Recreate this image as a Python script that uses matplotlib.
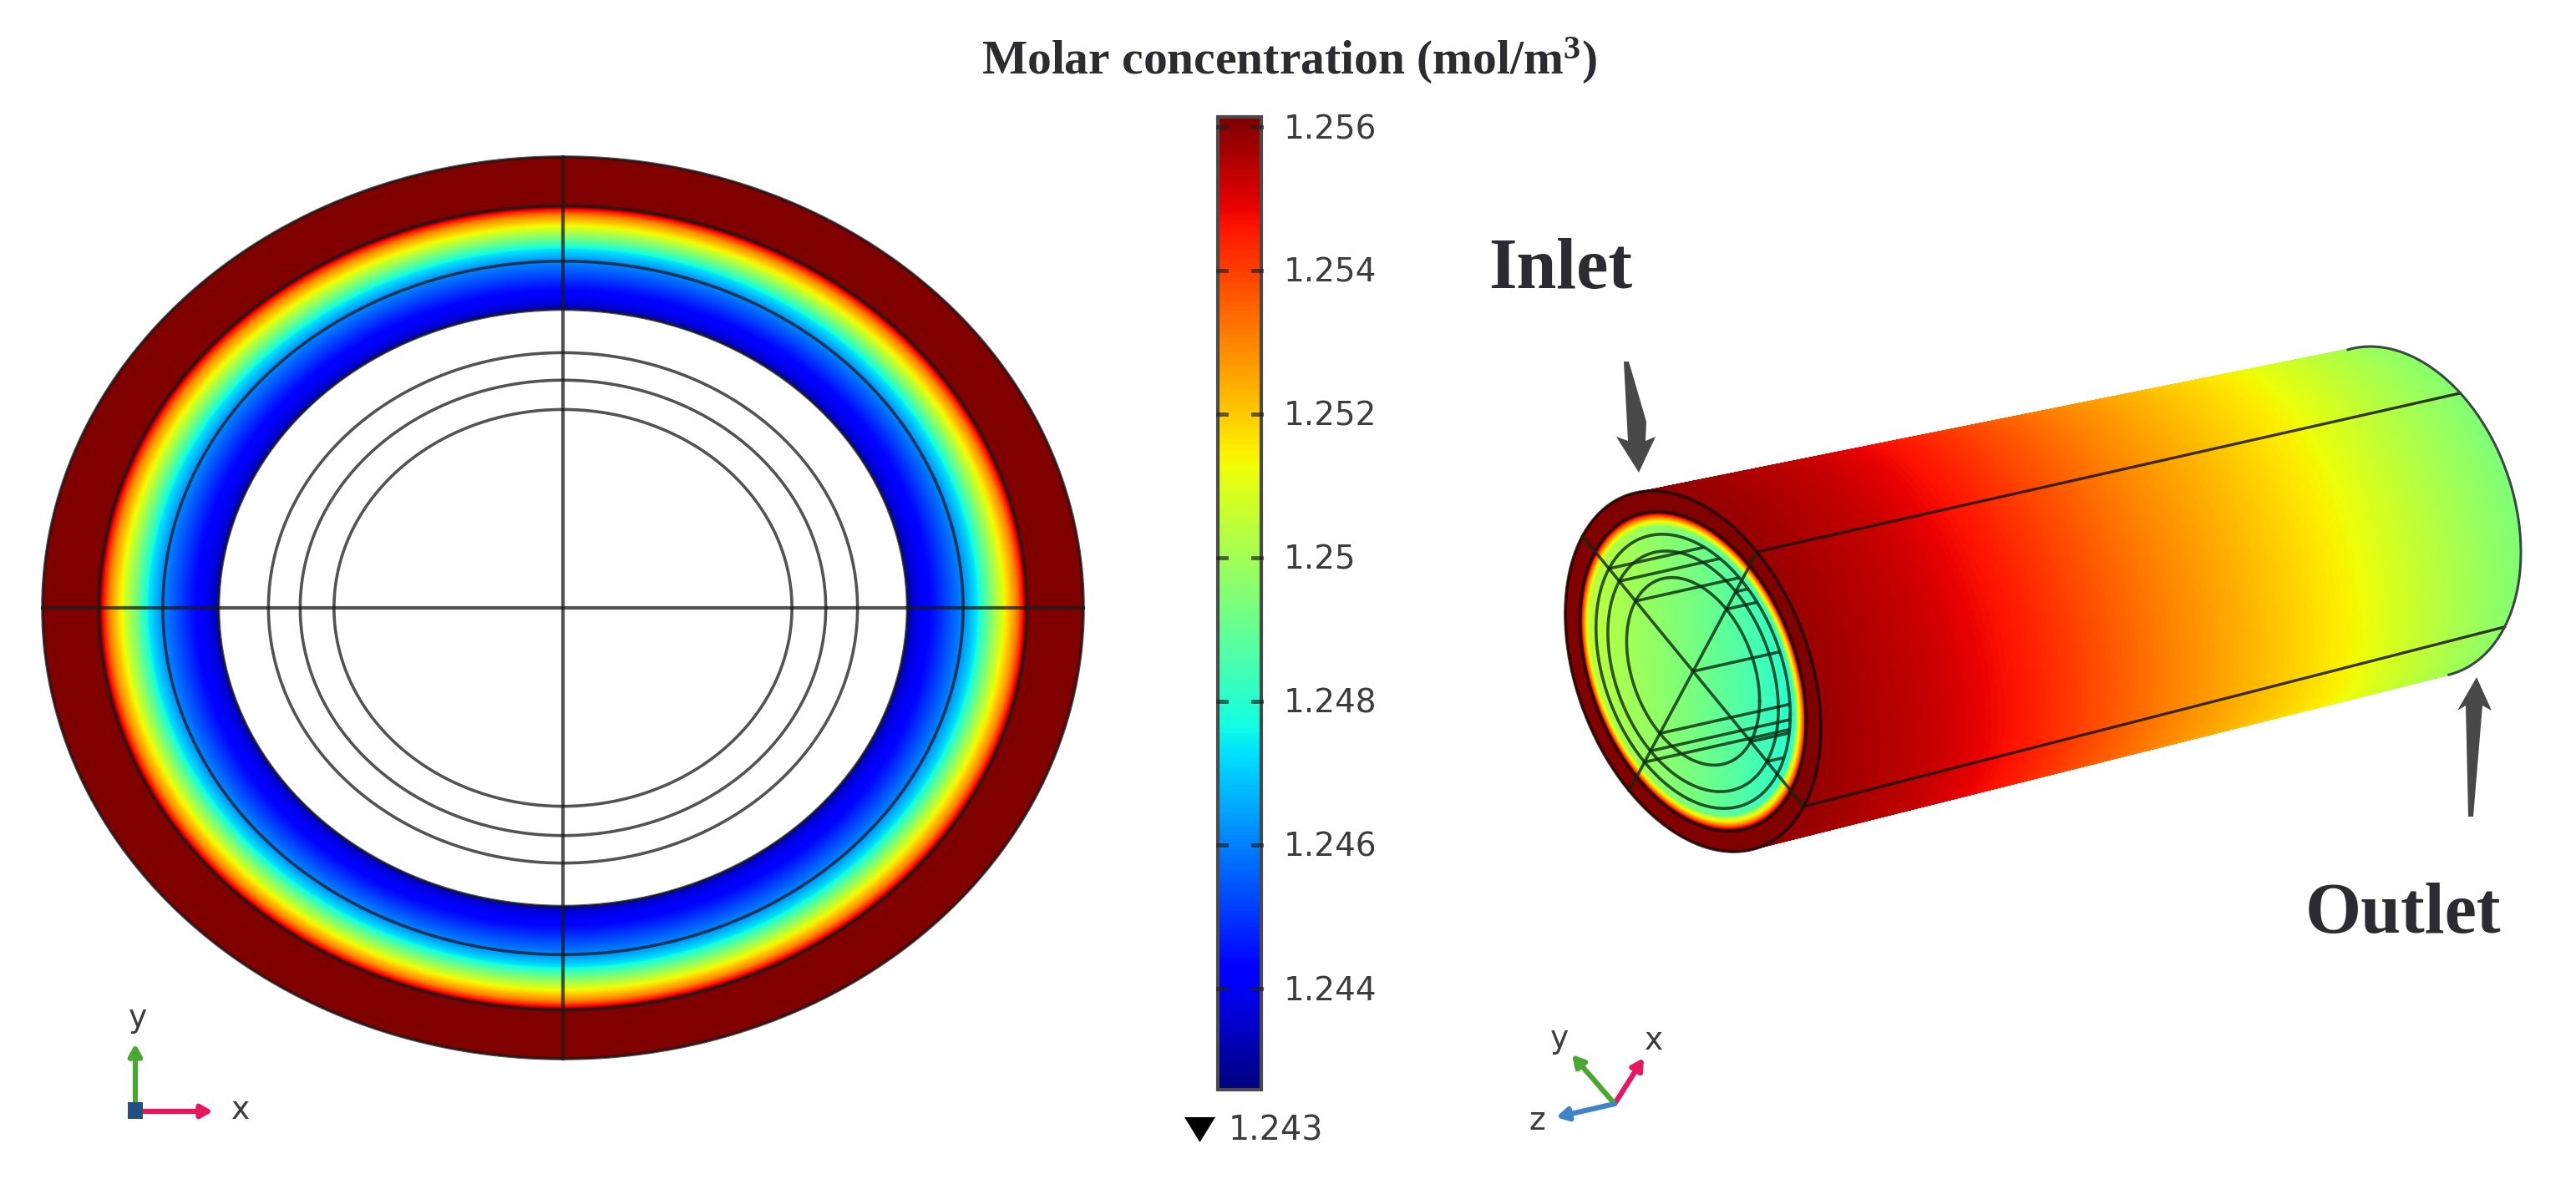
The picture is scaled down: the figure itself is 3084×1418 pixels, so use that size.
import numpy as np
import matplotlib
matplotlib.use("Agg")
import matplotlib.pyplot as plt
from matplotlib.colors import Normalize
from matplotlib.patches import Polygon, PathPatch, Rectangle
from matplotlib.path import Path

plt.rcParams['mathtext.fontset'] = 'custom'
plt.rcParams['mathtext.rm'] = 'Liberation Serif:bold'
plt.rcParams['mathtext.default'] = 'regular'

# ---- values ----
title_text = "Molar concentration (mol/m$^{3}$)"
inlet_label = "Inlet"
outlet_label = "Outlet"
cbar_ticks = [1.256, 1.254, 1.252, 1.25, 1.248, 1.246, 1.244]
cbar_labels = ["1.256", "1.254", "1.252", "1.25", "1.248", "1.246", "1.244"]
cbar_min_label = "1.243"
vmin, vmax = 1.24259, 1.25614

# concentration across the section (normalised radius -> mol/m3)
sec_r = [0.662, 0.680, 0.712, 0.769, 0.795, 0.823, 0.850, 0.872, 0.885, 0.892, 1.000]
sec_v = [1.2432, 1.2438, 1.2445, 1.2461, 1.2473, 1.2495, 1.2514, 1.2530, 1.2548, 1.2565, 1.2565]

# end-face ring of the cylinder (radius -> mol/m3)
face_r = [0.000, 0.795, 0.815, 0.835, 0.855, 0.870, 0.885, 1.000]
face_v = [1.2400, 1.2480, 1.2505, 1.2514, 1.2530, 1.2545, 1.2565, 1.2565]
# core of the end face, across it (left to right)
core_x = [-1.0, 0.0, 1.0]
core_v = [1.2507, 1.2493, 1.2476]

# along the cylinder (fraction of length -> mol/m3)
axial_s = [-0.1, 0.00, 0.15, 0.29, 0.50, 0.75, 0.88, 1.00]
axial_v = [1.2560, 1.2558, 1.2553, 1.2545, 1.2530, 1.2514, 1.2503, 1.2494]

# section boundaries (normalised radii)
sec_lines = [1.0, 0.892, 0.769, 0.662, 0.566, 0.505, 0.44]
face_lines = [1.0, 0.885, 0.76, 0.667, 0.52]

W, H = 3084, 1418
fig = plt.figure(figsize=(W / 100, H / 100), dpi=100, facecolor='white')
ax = fig.add_axes([0, 0, 1, 1])
ax.set_xlim(0, W)
ax.set_ylim(H, 0)
ax.axis('off')
norm = Normalize(vmin, vmax)
cmap = 'jet'
LINE = '#1a1a1a'
TXT = '#3c3c3c'
HEAD = '#2b2b30'

# ---- left: cross-section ----
cx, cy, a, b = 674, 728, 623, 540
rr = np.linspace(0.662, 1.0, 400)
tt = np.linspace(0, 2 * np.pi, 721)
R, T = np.meshgrid(rr, tt)
X = cx + a * R * np.cos(T)
Y = cy + b * R * np.sin(T)
ax.pcolormesh(X, Y, np.interp(R, sec_r, sec_v), cmap=cmap, norm=norm, shading='gouraud', zorder=1)
for r in sec_lines:
    ax.plot(cx + a * r * np.cos(tt), cy + b * r * np.sin(tt), color=LINE, alpha=0.75, lw=2.6, zorder=3)
ax.plot([cx, cx], [cy - b, cy + b], color=LINE, alpha=0.75, lw=3, zorder=3)
ax.plot([cx - a, cx + a], [cy, cy], color=LINE, alpha=0.75, lw=3, zorder=3)

# ---- colour bar ----
bx0, bx1, by0, by1 = 1458, 1510, 140, 1305
vals = np.linspace(vmax, vmin, 600)
ax.pcolormesh(np.array([bx0, bx1]), np.linspace(by0, by1, 601), vals[:, None], cmap=cmap, norm=norm, zorder=1)
ax.add_patch(Rectangle((bx0, by0), bx1 - bx0, by1 - by0, fill=False, ec='#4a4a4a', lw=3, zorder=3))
px_per = (by1 - by0) / (vmax - vmin)
for v, lab in zip(cbar_ticks, cbar_labels):
    y = by0 + (vmax - v) * px_per
    ax.plot([bx0, bx0 + 10], [y, y], color='#222222', alpha=.7, lw=3.5, zorder=4)
    ax.plot([bx1 - 10, bx1], [y, y], color='#222222', alpha=.7, lw=3.5, zorder=4)
    ax.text(1537, y + 3, lab, fontsize=28, color=TXT, va='center', ha='left', family='DejaVu Sans')
ax.add_patch(Polygon([[1418, 1338], [1455, 1338], [1436.5, 1368]], fc='black', ec='none'))
ax.text(1471, 1355, cbar_min_label, fontsize=28.5, color=TXT, va='center', ha='left', family='DejaVu Sans')

# ---- right: cylinder ----
def ell_L(hx, hy, cxy):
    l21 = cxy / hx
    return hx, l21, np.sqrt(hy ** 2 - l21 ** 2)

fc = (2027.0, 804.0); fL = ell_L(153, 216, 10500)
bc = (2873.0, 613.0); bL = ell_L(145, 198, 7000)

def pt(c, L, r, t):
    return c[0] + r * L[0] * np.cos(t), c[1] + r * (L[1] * np.cos(t) + L[2] * np.sin(t))

def tangent_t(L, d):
    q1 = d[0] / L[0]
    q2 = (d[1] - L[1] * q1) / L[2]
    return np.arctan2(q2, q1)

d_top, d_bot = (1, -0.214), (1, -0.255)
f0, f1 = tangent_t(fL, d_top) - np.pi / 2, tangent_t(fL, d_bot) + np.pi / 2
b0, b1 = tangent_t(bL, d_top) - np.pi / 2, tangent_t(bL, d_bot) + np.pi / 2
u = np.linspace(0, 1, 241)
s = np.linspace(0, 1, 401)
S, U = np.meshgrid(s, u)
tf = f0 + (f1 - f0) * U
tb = b0 + (b1 - b0) * U
fx, fy = pt(fc, fL, 1, tf)
bx, by = pt(bc, bL, 1, tb)
BX = (1 - S) * fx + S * bx
BY = (1 - S) * fy + S * by
bend = 0.07 * (2 * U - 1) ** 2
ax.pcolormesh(BX, BY, np.interp(S - bend, axial_s, axial_v), cmap=cmap, norm=norm, shading='gouraud', zorder=1)

# end face
rf = np.linspace(0, 1, 400)
tf2 = np.linspace(0, 2 * np.pi, 721)
RF, TF = np.meshgrid(rf, tf2)
FX, FY = pt(fc, fL, RF, TF)
core = np.interp(RF * np.cos(TF), core_x, core_v)
ax.pcolormesh(FX, FY, np.maximum(core, np.interp(RF, face_r, face_v)), cmap=cmap, norm=norm,
              shading='gouraud', zorder=2)
FLINE = '#0c2a10'
for r in face_lines:
    x_, y_ = pt(fc, fL, r, tf2)
    ax.plot(x_, y_, color='#150505' if r > 0.8 else FLINE, alpha=.8, lw=2.6, zorder=3)
spokes = np.deg2rad([-150, -60, 30, 120])
for t in spokes:
    x_, y_ = pt(fc, fL, np.array([0, 1.0]), t)
    ax.plot(x_, y_, color=FLINE, alpha=.8, lw=2.6, zorder=3)

# lines running along the bore, seen through the end face
cx_, cy_ = pt(fc, fL, 0.76, tf2)
clip = Path(np.column_stack([cx_, cy_]))
clip_patch = PathPatch(clip, transform=ax.transData, fc='none', ec='none')
ax.add_patch(clip_patch)
for t in spokes:
    for r in face_lines[2:]:
        x0, y0 = pt(fc, fL, r, t)
        ln, = ax.plot([x0, x0 + 400], [y0, y0 - 90], color=FLINE, alpha=.8, lw=2.6, zorder=3)
        ln.set_clip_path(clip_patch)
ln, = ax.plot([fc[0], fc[0] + 400], [fc[1], fc[1] - 90], color=FLINE, alpha=.8, lw=2.6, zorder=3)
ln.set_clip_path(clip_patch)

# edges along the cylinder and the far end
for t in np.deg2rad([-60, 30]):
    x0, y0 = pt(fc, fL, 1, t)
    x1, y1 = pt(bc, bL, 1, t)
    ax.plot([x0, x1], [y0, y1], color='#1a1405', alpha=.85, lw=2.4, zorder=3)
ta = np.linspace(b0 - 0.05, b1, 200)
x_, y_ = pt(bc, bL, 1, ta)
ax.plot(x_, y_, color='#3a4a40', lw=2.2, zorder=3)

# ---- arrows and labels ----
ARW = '#484848'
ax.add_patch(Polygon([[1944, 433], [1950, 433], [1971, 505], [1970, 528], [1982, 523], [1962, 566],
                      [1935, 523], [1949, 528]], fc=ARW, ec='none', zorder=5))
ax.add_patch(Polygon([[2965, 811], [2983, 851], [2972, 845], [2961, 978], [2955, 978],
                      [2952, 845], [2942, 851]], fc=ARW, ec='none', zorder=5))
ax.text(1868, 345, inlet_label, fontsize=62, fontweight='bold', family='Liberation Serif',
        color=HEAD, ha='center', va='baseline')
ax.text(2877, 1117, outlet_label, fontsize=62, fontweight='bold', family='Liberation Serif',
        color=HEAD, ha='center', va='baseline')
ax.text(1543, 89, title_text, fontsize=41.4, fontweight='bold', family='Liberation Serif',
        color=HEAD, ha='center', va='baseline')

# ---- coordinate triads ----
GREEN, PINK, BLUE = '#4aa832', '#e8175d', '#3f84c8'
def triad(x0, y0, x1, y1, col):
    ax.annotate('', xy=(x1, y1), xytext=(x0, y0),
                arrowprops=dict(arrowstyle='-|>,head_length=0.8,head_width=0.45', color=col, lw=4.5,
                                shrinkA=0, shrinkB=0), zorder=5)
triad(162, 1330, 162, 1250, GREEN)
triad(162, 1331, 255, 1331, PINK)
ax.add_patch(Rectangle((153, 1320), 18, 20, fc='#1f5080', ec='none', zorder=6))
triad(1933, 1322, 1968, 1267, PINK)
triad(1933, 1322, 1882, 1263, GREEN)
triad(1933, 1322, 1863, 1338, BLUE)
for x, y, t in [(165, 1220, 'y'), (288, 1330, 'x'), (1867, 1245, 'y'), (1980, 1247, 'x'), (1840, 1343, 'z')]:
    ax.text(x, y, t, fontsize=27, color=TXT, ha='center', va='center', family='DejaVu Sans')

fig.savefig('out.png', dpi=100, facecolor='white')
